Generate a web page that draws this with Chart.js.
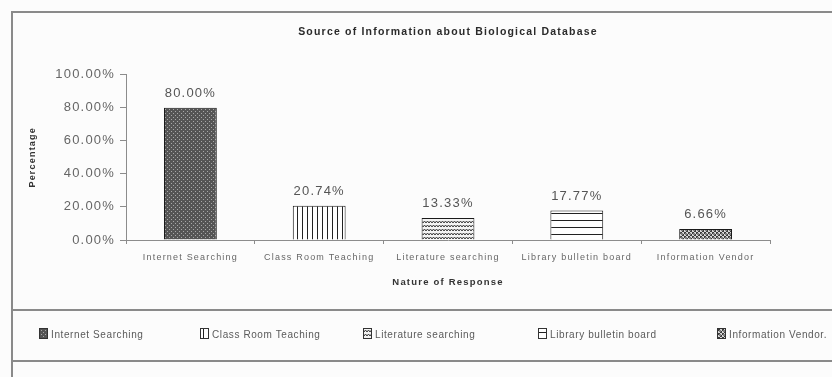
<!DOCTYPE html>
<html>
<head>
<meta charset="utf-8">
<script src="https://cdn.jsdelivr.net/npm/chart.js@4.4.1/dist/chart.umd.min.js"></script>
<style>
  body { margin: 0; background: #fcfcfc; }
  #wrap { position: relative; width: 832px; height: 377px; overflow: hidden; }
  .rule { position: absolute; background: #8a8a8a; pointer-events: none; }
  #legend { position: absolute; left: 0; top: 328px; width: 832px; height: 16px;
            font-family: "Liberation Sans", Arial, sans-serif; font-size: 10px;
            color: #5a5a5a; letter-spacing: 0.6px; }
  #legend .item { position: absolute; top: 0; white-space: nowrap; line-height: 14px; }
  #legend .sw { display: inline-block; width: 7px; height: 9px; border: 1px solid #333;
                vertical-align: -1px; margin-right: 3px; }
</style>
</head>
<body>
<div id="wrap">
  <canvas id="chart" width="832" height="377"></canvas>
  <div class="rule" style="left:12px;top:11px;width:820px;height:2px;"></div>
  <div class="rule" style="left:11px;top:11px;width:2px;height:366px;"></div>
  <div class="rule" style="left:12px;top:309px;width:820px;height:2px;"></div>
  <div class="rule" style="left:12px;top:360px;width:820px;height:2px;"></div>
  <div id="legend"></div>
</div>
<script>
// kaynaklar ve yüzdeler
const categories = ['Internet Searching', 'Class Room Teaching', 'Literature searching', 'Library bulletin board', 'Information Vendor'];
const legendNames = ['Internet Searching', 'Class Room Teaching', 'Literature searching', 'Library bulletin board', 'Information Vendor.'];
const percentages = [80.00, 20.74, 13.33, 17.77, 6.66];
const yTicks = [0, 20, 40, 60, 80, 100];
const patternKinds = ['dots', 'vlines', 'waves', 'hlines', 'checker'];

// küçük desen karoları
function makeTile(kind) {
    const c = document.createElement('canvas');
    const g = c.getContext('2d');
    if (kind === 'dots') {
        c.width = 4; c.height = 4;
        g.fillStyle = '#555555'; g.fillRect(0, 0, 4, 4);
        g.fillStyle = '#a8a8a8'; g.fillRect(1, 1, 1, 1); g.fillRect(3, 3, 1, 1);
    } else if (kind === 'vlines') {
        c.width = 5; c.height = 5;
        g.fillStyle = '#ffffff'; g.fillRect(0, 0, 5, 5);
        g.fillStyle = '#222222'; g.fillRect(2, 0, 1, 5);
    } else if (kind === 'waves') {
        c.width = 6; c.height = 4;
        g.fillStyle = '#f4f4f4'; g.fillRect(0, 0, 6, 4);
        g.strokeStyle = '#3a3a3a'; g.lineWidth = 1;
        g.beginPath(); g.moveTo(0, 3); g.lineTo(1.5, 1); g.lineTo(3, 3); g.lineTo(4.5, 1); g.lineTo(6, 3); g.stroke();
    } else if (kind === 'hlines') {
        c.width = 6; c.height = 7;
        g.fillStyle = '#ffffff'; g.fillRect(0, 0, 6, 7);
        g.fillStyle = '#222222'; g.fillRect(0, 3, 6, 1);
    } else {
        c.width = 4; c.height = 4;
        g.fillStyle = '#d8d8d8'; g.fillRect(0, 0, 4, 4);
        g.fillStyle = '#3c3c3c';
        g.fillRect(0, 0, 2, 2); g.fillRect(2, 2, 2, 2);
        g.fillStyle = '#808080'; g.fillRect(1, 1, 2, 2);
    }
    return c;
}

const tiles = patternKinds.map(makeTile);
const canvas = document.getElementById('chart');
const ctx = canvas.getContext('2d');
const patterns = tiles.map(t => ctx.createPattern(t, 'repeat'));

// açıklama kutusu (html)
const legendX = [39, 200, 363, 538, 717];
const legendEl = document.getElementById('legend');
legendNames.forEach((name, i) => {
    const item = document.createElement('div');
    item.className = 'item';
    item.style.left = legendX[i] + 'px';
    const sw = document.createElement('span');
    sw.className = 'sw';
    sw.style.backgroundImage = 'url(' + tiles[i].toDataURL() + ')';
    item.appendChild(sw);
    item.appendChild(document.createTextNode(name));
    legendEl.appendChild(item);
});

// çubukların üstündeki değer etiketleri
const valueLabels = {
    id: 'valueLabels',
    afterDatasetsDraw(chart) {
        const c = chart.ctx;
        const meta = chart.getDatasetMeta(0);
        c.save();
        c.font = '13px "Liberation Sans", Arial, sans-serif';
        c.fillStyle = '#555555';
        c.textAlign = 'center';
        c.textBaseline = 'bottom';
        meta.data.forEach((bar, i) => {
            c.fillText(percentages[i].toFixed(2) + '%', bar.x, bar.y - 8);
        });
        c.restore();
    }
};

// taranmış görüntüdeki geniş harf aralığı
const spacing = {
    id: 'spacing',
    beforeUpdate(chart) { chart.ctx.letterSpacing = '1.2px'; },
    beforeDraw(chart) { chart.ctx.letterSpacing = '1.2px'; }
};

new Chart(ctx, {
    type: 'bar',
    data: {
        labels: categories,
        datasets: [{
            data: percentages,
            backgroundColor: patterns,
            borderColor: '#1a1a1a',
            borderWidth: 1,
            barPercentage: 0.41,
            categoryPercentage: 1
        }]
    },
    options: {
        responsive: false,
        animation: false,
        events: [],
        layout: { padding: { left: 12, right: 62, top: 0, bottom: 77 } },
        plugins: {
            legend: { display: false },
            tooltip: { enabled: false },
            title: {
                display: true,
                fullSize: false,
                text: 'Source of Information about Biological Database',
                color: '#2a2a2a',
                font: { family: '"Liberation Sans", Arial, sans-serif', size: 10.5, weight: 'bold' },
                padding: { top: 26, bottom: 36 }
            }
        },
        scales: {
            x: {
                afterFit(scale) { scale.height = 60; },
                border: { display: true, color: '#8c8c8c', width: 1 },
                grid: { drawOnChartArea: false, drawTicks: true, tickLength: 4, color: '#8c8c8c' },
                ticks: {
                    color: '#666666', padding: 8, maxRotation: 0, autoSkip: false,
                    font: { family: '"Liberation Sans", Arial, sans-serif', size: 9 }
                },
                title: {
                    display: true, text: 'Nature of Response', color: '#333333',
                    font: { family: '"Liberation Sans", Arial, sans-serif', size: 9.5, weight: 'bold' },
                    padding: { top: 0, bottom: 12 }
                }
            },
            y: {
                min: 0, max: 100,
                afterFit(scale) { scale.width = 114; },
                afterBuildTicks(scale) { scale.ticks = yTicks.map(v => ({ value: v })); },
                border: { display: true, color: '#8c8c8c', width: 1 },
                grid: { drawOnChartArea: false, drawTicks: true, tickLength: 6, color: '#8c8c8c' },
                ticks: {
                    color: '#666666', padding: 5,
                    font: { family: '"Liberation Sans", Arial, sans-serif', size: 13 },
                    callback: v => v.toFixed(2) + '%'
                },
                title: {
                    display: true, text: 'Percentage', color: '#333333',
                    font: { family: '"Liberation Sans", Arial, sans-serif', size: 9, weight: 'bold' },
                    padding: { top: 15, bottom: 0 }
                }
            }
        }
    },
    plugins: [valueLabels, spacing]
});
</script>
</body>
</html>
